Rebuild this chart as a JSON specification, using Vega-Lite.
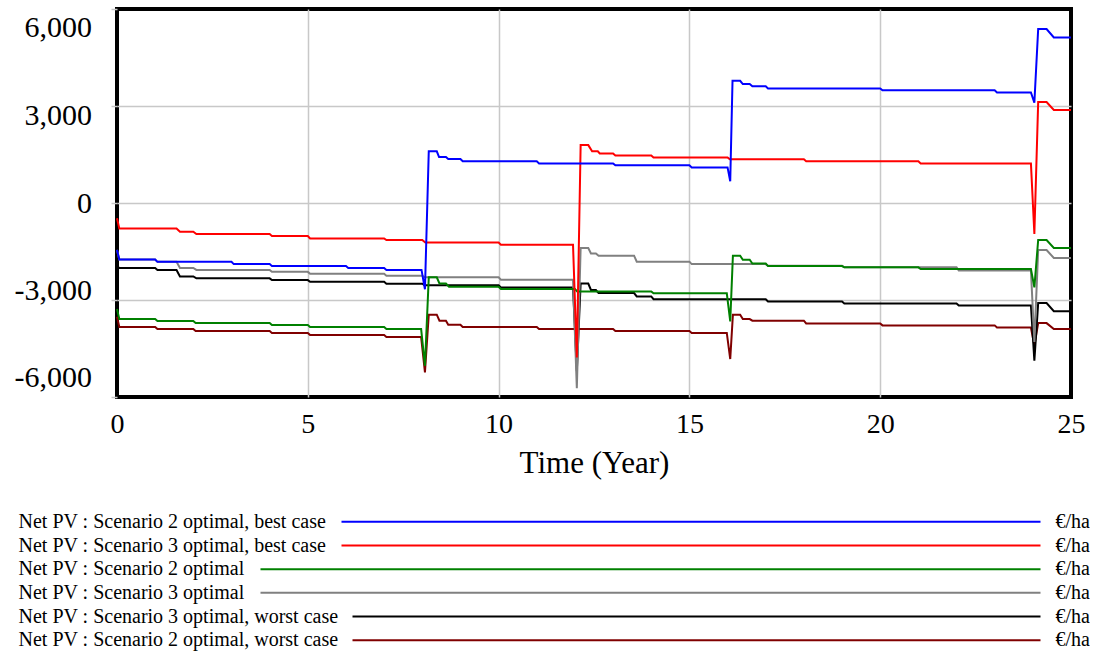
{
  "$schema": "https://vega.github.io/schema/vega-lite/v6.json",
  "background": "white",
  "padding": {"left": 0, "top": 6, "right": 0, "bottom": 0},
  "spacing": 30,
  "config": {"font": "Liberation Serif", "view": {"stroke": null, "strokeWidth": 4}},
  "datasets": {
    "lines": [
      {"s":"A","t":0,"v":-1450},{"s":"A","t":0.06,"v":-1750},{"s":"A","t":1.0,"v":-1750},{"s":"A","t":1.06,"v":-1820},{"s":"A","t":3.0,"v":-1820},{"s":"A","t":3.06,"v":-1890},{"s":"A","t":4.0,"v":-1890},{"s":"A","t":4.06,"v":-1950},{"s":"A","t":6.0,"v":-1950},{"s":"A","t":6.06,"v":-2010},{"s":"A","t":7.0,"v":-2010},{"s":"A","t":7.06,"v":-2070},{"s":"A","t":7.98,"v":-2070},{"s":"A","t":8.07,"v":-2670},{"s":"A","t":8.17,"v":1600},{"s":"A","t":8.38,"v":1600},{"s":"A","t":8.44,"v":1420},{"s":"A","t":8.62,"v":1420},{"s":"A","t":8.68,"v":1360},{"s":"A","t":9.0,"v":1360},{"s":"A","t":9.06,"v":1290},{"s":"A","t":11.0,"v":1290},{"s":"A","t":11.06,"v":1225},{"s":"A","t":13.0,"v":1225},{"s":"A","t":13.06,"v":1165},{"s":"A","t":15.0,"v":1165},{"s":"A","t":15.06,"v":1100},{"s":"A","t":16.0,"v":1100},{"s":"A","t":16.07,"v":670},{"s":"A","t":16.13,"v":3780},{"s":"A","t":16.33,"v":3780},{"s":"A","t":16.4,"v":3680},{"s":"A","t":16.58,"v":3680},{"s":"A","t":16.65,"v":3610},{"s":"A","t":17.0,"v":3610},{"s":"A","t":17.06,"v":3545},{"s":"A","t":20.0,"v":3545},{"s":"A","t":20.06,"v":3485},{"s":"A","t":23.0,"v":3485},{"s":"A","t":23.06,"v":3420},{"s":"A","t":23.95,"v":3420},{"s":"A","t":24.04,"v":3100},{"s":"A","t":24.14,"v":5380},{"s":"A","t":24.36,"v":5380},{"s":"A","t":24.55,"v":5120},{"s":"A","t":25,"v":5120},
      {"s":"B","t":0,"v":-470},{"s":"B","t":0.06,"v":-790},{"s":"B","t":1.56,"v":-790},{"s":"B","t":1.65,"v":-890},{"s":"B","t":2.0,"v":-890},{"s":"B","t":2.08,"v":-960},{"s":"B","t":4.0,"v":-960},{"s":"B","t":4.06,"v":-1020},{"s":"B","t":5.0,"v":-1020},{"s":"B","t":5.06,"v":-1095},{"s":"B","t":7.0,"v":-1095},{"s":"B","t":7.06,"v":-1145},{"s":"B","t":8.0,"v":-1145},{"s":"B","t":8.08,"v":-1220},{"s":"B","t":10.0,"v":-1220},{"s":"B","t":10.06,"v":-1290},{"s":"B","t":11.95,"v":-1290},{"s":"B","t":12.05,"v":-4775},{"s":"B","t":12.15,"v":1790},{"s":"B","t":12.35,"v":1790},{"s":"B","t":12.45,"v":1600},{"s":"B","t":12.6,"v":1600},{"s":"B","t":12.65,"v":1534},{"s":"B","t":13.0,"v":1534},{"s":"B","t":13.06,"v":1472},{"s":"B","t":14.0,"v":1472},{"s":"B","t":14.06,"v":1410},{"s":"B","t":16.0,"v":1410},{"s":"B","t":16.06,"v":1350},{"s":"B","t":18.0,"v":1350},{"s":"B","t":18.06,"v":1290},{"s":"B","t":21.0,"v":1290},{"s":"B","t":21.06,"v":1225},{"s":"B","t":23.95,"v":1225},{"s":"B","t":24.04,"v":-960},{"s":"B","t":24.14,"v":3120},{"s":"B","t":24.36,"v":3120},{"s":"B","t":24.55,"v":2880},{"s":"B","t":25,"v":2880},
      {"s":"C","t":0,"v":-3280},{"s":"C","t":0.06,"v":-3590},{"s":"C","t":1.0,"v":-3590},{"s":"C","t":1.06,"v":-3650},{"s":"C","t":2.0,"v":-3650},{"s":"C","t":2.06,"v":-3710},{"s":"C","t":4.0,"v":-3710},{"s":"C","t":4.06,"v":-3775},{"s":"C","t":5.0,"v":-3775},{"s":"C","t":5.06,"v":-3835},{"s":"C","t":7.0,"v":-3835},{"s":"C","t":7.06,"v":-3900},{"s":"C","t":7.97,"v":-3900},{"s":"C","t":8.07,"v":-5035},{"s":"C","t":8.17,"v":-2300},{"s":"C","t":8.38,"v":-2300},{"s":"C","t":8.45,"v":-2490},{"s":"C","t":8.62,"v":-2490},{"s":"C","t":8.7,"v":-2590},{"s":"C","t":10.0,"v":-2590},{"s":"C","t":10.06,"v":-2660},{"s":"C","t":12.0,"v":-2660},{"s":"C","t":12.06,"v":-2735},{"s":"C","t":14.0,"v":-2735},{"s":"C","t":14.06,"v":-2795},{"s":"C","t":15.98,"v":-2795},{"s":"C","t":16.07,"v":-3660},{"s":"C","t":16.14,"v":-1630},{"s":"C","t":16.33,"v":-1630},{"s":"C","t":16.4,"v":-1755},{"s":"C","t":16.58,"v":-1755},{"s":"C","t":16.65,"v":-1870},{"s":"C","t":17.0,"v":-1870},{"s":"C","t":17.06,"v":-1950},{"s":"C","t":19.0,"v":-1950},{"s":"C","t":19.06,"v":-1990},{"s":"C","t":21.0,"v":-1990},{"s":"C","t":21.06,"v":-2040},{"s":"C","t":23.95,"v":-2040},{"s":"C","t":24.04,"v":-2610},{"s":"C","t":24.14,"v":-1145},{"s":"C","t":24.36,"v":-1145},{"s":"C","t":24.55,"v":-1390},{"s":"C","t":25,"v":-1390},
      {"s":"D","t":0,"v":-1450},{"s":"D","t":0.06,"v":-1750},{"s":"D","t":1.0,"v":-1750},{"s":"D","t":1.06,"v":-1820},{"s":"D","t":1.56,"v":-1820},{"s":"D","t":1.65,"v":-2010},{"s":"D","t":2.0,"v":-2010},{"s":"D","t":2.08,"v":-2070},{"s":"D","t":4.0,"v":-2070},{"s":"D","t":4.06,"v":-2130},{"s":"D","t":5.0,"v":-2130},{"s":"D","t":5.06,"v":-2190},{"s":"D","t":7.0,"v":-2190},{"s":"D","t":7.06,"v":-2250},{"s":"D","t":8.0,"v":-2250},{"s":"D","t":8.06,"v":-2300},{"s":"D","t":10.0,"v":-2300},{"s":"D","t":10.06,"v":-2370},{"s":"D","t":11.95,"v":-2370},{"s":"D","t":12.05,"v":-5730},{"s":"D","t":12.15,"v":-1390},{"s":"D","t":12.35,"v":-1390},{"s":"D","t":12.42,"v":-1560},{"s":"D","t":12.55,"v":-1560},{"s":"D","t":12.62,"v":-1630},{"s":"D","t":13.55,"v":-1630},{"s":"D","t":13.62,"v":-1815},{"s":"D","t":15.0,"v":-1815},{"s":"D","t":15.06,"v":-1890},{"s":"D","t":17.0,"v":-1890},{"s":"D","t":17.06,"v":-1940},{"s":"D","t":19.0,"v":-1940},{"s":"D","t":19.06,"v":-1990},{"s":"D","t":22.0,"v":-1990},{"s":"D","t":22.06,"v":-2090},{"s":"D","t":23.95,"v":-2090},{"s":"D","t":24.04,"v":-4300},{"s":"D","t":24.14,"v":-1455},{"s":"D","t":24.36,"v":-1455},{"s":"D","t":24.55,"v":-1700},{"s":"D","t":25,"v":-1700},
      {"s":"E","t":0,"v":-1950},{"s":"E","t":0.06,"v":-2010},{"s":"E","t":1.0,"v":-2010},{"s":"E","t":1.06,"v":-2070},{"s":"E","t":1.56,"v":-2070},{"s":"E","t":1.65,"v":-2270},{"s":"E","t":2.0,"v":-2270},{"s":"E","t":2.08,"v":-2330},{"s":"E","t":4.0,"v":-2330},{"s":"E","t":4.06,"v":-2385},{"s":"E","t":5.0,"v":-2385},{"s":"E","t":5.06,"v":-2435},{"s":"E","t":7.0,"v":-2435},{"s":"E","t":7.06,"v":-2495},{"s":"E","t":8.0,"v":-2495},{"s":"E","t":8.06,"v":-2540},{"s":"E","t":10.0,"v":-2540},{"s":"E","t":10.06,"v":-2610},{"s":"E","t":11.95,"v":-2610},{"s":"E","t":12.05,"v":-5200},{"s":"E","t":12.15,"v":-2490},{"s":"E","t":12.35,"v":-2490},{"s":"E","t":12.42,"v":-2690},{"s":"E","t":12.55,"v":-2690},{"s":"E","t":12.62,"v":-2785},{"s":"E","t":13.55,"v":-2785},{"s":"E","t":13.62,"v":-2890},{"s":"E","t":14.0,"v":-2890},{"s":"E","t":14.06,"v":-2975},{"s":"E","t":17.0,"v":-2975},{"s":"E","t":17.06,"v":-3045},{"s":"E","t":19.0,"v":-3045},{"s":"E","t":19.06,"v":-3105},{"s":"E","t":22.0,"v":-3105},{"s":"E","t":22.06,"v":-3170},{"s":"E","t":23.95,"v":-3170},{"s":"E","t":24.04,"v":-4880},{"s":"E","t":24.14,"v":-3095},{"s":"E","t":24.36,"v":-3095},{"s":"E","t":24.55,"v":-3345},{"s":"E","t":25,"v":-3345},
      {"s":"F","t":0,"v":-3520},{"s":"F","t":0.06,"v":-3835},{"s":"F","t":1.0,"v":-3835},{"s":"F","t":1.06,"v":-3900},{"s":"F","t":2.0,"v":-3900},{"s":"F","t":2.06,"v":-3960},{"s":"F","t":4.0,"v":-3960},{"s":"F","t":4.06,"v":-4020},{"s":"F","t":5.0,"v":-4020},{"s":"F","t":5.06,"v":-4085},{"s":"F","t":7.0,"v":-4085},{"s":"F","t":7.06,"v":-4145},{"s":"F","t":7.97,"v":-4145},{"s":"F","t":8.07,"v":-5240},{"s":"F","t":8.17,"v":-3455},{"s":"F","t":8.38,"v":-3455},{"s":"F","t":8.45,"v":-3640},{"s":"F","t":8.62,"v":-3640},{"s":"F","t":8.68,"v":-3765},{"s":"F","t":9.0,"v":-3765},{"s":"F","t":9.06,"v":-3835},{"s":"F","t":11.0,"v":-3835},{"s":"F","t":11.06,"v":-3900},{"s":"F","t":13.0,"v":-3900},{"s":"F","t":13.06,"v":-3960},{"s":"F","t":15.0,"v":-3960},{"s":"F","t":15.06,"v":-4020},{"s":"F","t":15.98,"v":-4020},{"s":"F","t":16.07,"v":-4825},{"s":"F","t":16.14,"v":-3455},{"s":"F","t":16.33,"v":-3455},{"s":"F","t":16.4,"v":-3590},{"s":"F","t":16.58,"v":-3590},{"s":"F","t":16.65,"v":-3640},{"s":"F","t":18.0,"v":-3640},{"s":"F","t":18.06,"v":-3725},{"s":"F","t":20.0,"v":-3725},{"s":"F","t":20.06,"v":-3785},{"s":"F","t":23.0,"v":-3785},{"s":"F","t":23.06,"v":-3850},{"s":"F","t":23.95,"v":-3850},{"s":"F","t":24.04,"v":-4410},{"s":"F","t":24.14,"v":-3715},{"s":"F","t":24.36,"v":-3715},{"s":"F","t":24.55,"v":-3900},{"s":"F","t":25,"v":-3900}
    ],
    "legend": [
      {"s":"A","label":"Net PV : Scenario 2 optimal, best case","kind":"best","unit":"€/ha"},
      {"s":"B","label":"Net PV : Scenario 3 optimal, best case","kind":"best","unit":"€/ha"},
      {"s":"C","label":"Net PV : Scenario 2 optimal","kind":"opt","unit":"€/ha"},
      {"s":"D","label":"Net PV : Scenario 3 optimal","kind":"opt","unit":"€/ha"},
      {"s":"E","label":"Net PV : Scenario 3 optimal, worst case","kind":"worst","unit":"€/ha"},
      {"s":"F","label":"Net PV : Scenario 2 optimal, worst case","kind":"worst","unit":"€/ha"}
    ]
  },
  "vconcat": [
    {
      "width": 954,
      "height": 388,
      "view": {"stroke": "black", "strokeWidth": 4},
      "data": {"name": "lines"},
      "encoding": {
        "x": {"field": "t", "type": "quantitative",
          "scale": {"domain": [0, 25], "nice": false, "zero": false},
          "axis": {"values": [0, 5, 10, 15, 20, 25], "title": "Time (Year)", "domain": false, "ticks": false, "tickSize": 0,
            "labelPadding": 27.5, "labelBaseline": "middle", "labelFontSize": 28, "labelFont": "Liberation Serif", "labelColor": "black",
            "labelFlush": false, "labelOverlap": false, "gridWidth": 1.5,
            "gridColor": {"condition": {"test": "datum.value == 0 || datum.value == 25", "value": "transparent"}, "value": "#c8c8c8"},
            "titleFontSize": 31, "titleFont": "Liberation Serif", "titleFontWeight": "normal", "titleColor": "black",
            "titleY": 66, "titleBaseline": "middle"}},
        "y": {"field": "v", "type": "quantitative",
          "scale": {"domain": [-6000, 6000], "nice": false, "zero": false},
          "axis": {"values": [-6000, -3000, 0, 3000, 6000], "title": null, "domain": false, "ticks": true, "tickSize": 6,
            "tickColor": "#c8c8c8", "tickWidth": 1.5, "labelPadding": 19.5, "labelFontSize": 30, "labelFont": "Liberation Serif",
            "labelColor": "black", "labelBaseline": "middle", "labelFlush": false, "labelOverlap": false,
            "labelExpr": "datum.value == 0 ? '0' : (datum.value < 0 ? '-' : '') + format(abs(datum.value), ',')",
            "labelOffset": {"condition": [
              {"test": "datum.value == 6000", "value": 18.5},
              {"test": "datum.value == 3000", "value": 9.5},
              {"test": "datum.value == -3000", "value": -9.5},
              {"test": "datum.value == -6000", "value": -19.5}
            ], "value": 0},
            "gridWidth": 1.5,
            "gridColor": {"condition": {"test": "abs(datum.value) == 6000", "value": "transparent"}, "value": "#c8c8c8"},
            "minExtent": 115, "maxExtent": 115}},
        "color": {"field": "s", "type": "nominal",
          "scale": {"domain": ["A", "B", "C", "D", "E", "F"], "range": ["#0000ff", "#ff0000", "#008000", "#808080", "#000000", "#800000"]},
          "legend": null}
      },
      "layer": [
        {"transform": [{"filter": "datum.s == 'F'"}], "mark": {"type": "line", "strokeWidth": 2}},
        {"transform": [{"filter": "datum.s == 'E'"}], "mark": {"type": "line", "strokeWidth": 2}},
        {"transform": [{"filter": "datum.s == 'D'"}], "mark": {"type": "line", "strokeWidth": 2}},
        {"transform": [{"filter": "datum.s == 'C'"}], "mark": {"type": "line", "strokeWidth": 2}},
        {"transform": [{"filter": "datum.s == 'B'"}], "mark": {"type": "line", "strokeWidth": 2}},
        {"transform": [{"filter": "datum.s == 'A'"}], "mark": {"type": "line", "strokeWidth": 2}}
      ]
    },
    {
      "width": 954,
      "height": 142,
      "view": {"stroke": null},
      "data": {"name": "legend"},
      "encoding": {
        "y": {"field": "s", "type": "nominal",
          "scale": {"type": "point", "domain": ["A", "B", "C", "D", "E", "F"], "padding": 0.5}, "axis": null},
        "color": {"field": "s", "type": "nominal", "legend": null}
      },
      "layer": [
        {"mark": {"type": "text", "align": "left", "baseline": "middle", "fontSize": 20, "font": "Liberation Serif", "color": "black"},
          "encoding": {"x": {"datum": 19, "type": "quantitative", "scale": {"domain": [117.5, 1071.5], "nice": false, "zero": false}, "axis": null},
            "text": {"field": "label"}, "color": {"value": "black"}}},
        {"transform": [{"filter": "datum.kind == 'best'"}], "mark": {"type": "rule", "strokeWidth": 2},
          "encoding": {"x": {"datum": 342, "type": "quantitative"}, "x2": {"datum": 1041}}},
        {"transform": [{"filter": "datum.kind == 'opt'"}], "mark": {"type": "rule", "strokeWidth": 2},
          "encoding": {"x": {"datum": 261, "type": "quantitative"}, "x2": {"datum": 1041}}},
        {"transform": [{"filter": "datum.kind == 'worst'"}], "mark": {"type": "rule", "strokeWidth": 2},
          "encoding": {"x": {"datum": 353, "type": "quantitative"}, "x2": {"datum": 1041}}},
        {"mark": {"type": "text", "align": "left", "baseline": "middle", "fontSize": 20, "font": "Liberation Serif"},
          "encoding": {"x": {"datum": 1056, "type": "quantitative"}, "text": {"field": "unit"}, "color": {"value": "black"}}}
      ]
    }
  ]
}
